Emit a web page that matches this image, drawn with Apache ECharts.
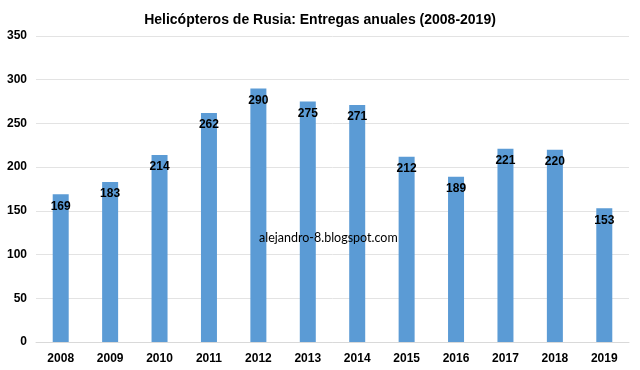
<!DOCTYPE html>
<html>
<head>
<meta charset="utf-8">
<script src="https://cdn.jsdelivr.net/npm/echarts@6/dist/echarts.min.js"></script>
<style>html,body{margin:0;padding:0;background:#fff}#c{width:640px;height:370px}</style>
</head>
<body>
<div id="c"></div>
<script>
const years = ['2008','2009','2010','2011','2012','2013','2014','2015','2016','2017','2018','2019'];
const deliveries = [169,183,214,262,290,275,271,212,189,221,220,153];
const titleText = 'Helicópteros de Rusia: Entregas anuales (2008-2019)';
const watermark = 'alejandro-8.blogspot.com';

const chart = echarts.init(document.getElementById('c'));
chart.setOption({
  animation: false,
  backgroundColor: '#fff',
  title: [{
    text: titleText,
    left: 'center',
    top: 8,
    textStyle: {fontFamily: 'Liberation Sans, Arial', fontWeight: 'bold', fontSize: 14, color: '#000'}
  }, {
    text: watermark,
    left: 254,
    top: 226,
    textStyle: {fontFamily: 'Lato, Open Sans, sans-serif', fontWeight: 'normal', fontSize: 12.5, color: '#000'}
  }],
  grid: {left: 36, right: 11, top: 36, bottom: 28},
  xAxis: {
    type: 'category',
    data: years,
    axisLine: {show: true, lineStyle: {color: '#d9d9d9'}},
    axisTick: {show: false},
    axisLabel: {fontFamily: 'Liberation Sans, Arial', fontWeight: 'bold', fontSize: 12, color: '#000', margin: 11}
  },
  yAxis: {
    type: 'value',
    min: 0, max: 350, interval: 50,
    axisLine: {show: false},
    axisTick: {show: false},
    splitLine: {lineStyle: {color: '#e3e3e3'}},
    axisLabel: {fontFamily: 'Liberation Sans, Arial', fontWeight: 'bold', fontSize: 12, color: '#000', margin: 9}
  },
  series: [{
    type: 'bar',
    data: deliveries,
    barWidth: 16,
    itemStyle: {color: '#5b9bd5'},
    label: {
      show: true,
      position: 'insideTop',
      distance: 6,
      fontFamily: 'Liberation Sans, Arial',
      fontWeight: 'bold',
      fontSize: 12,
      color: '#000'
    }
  }]
});
</script>
</body>
</html>
